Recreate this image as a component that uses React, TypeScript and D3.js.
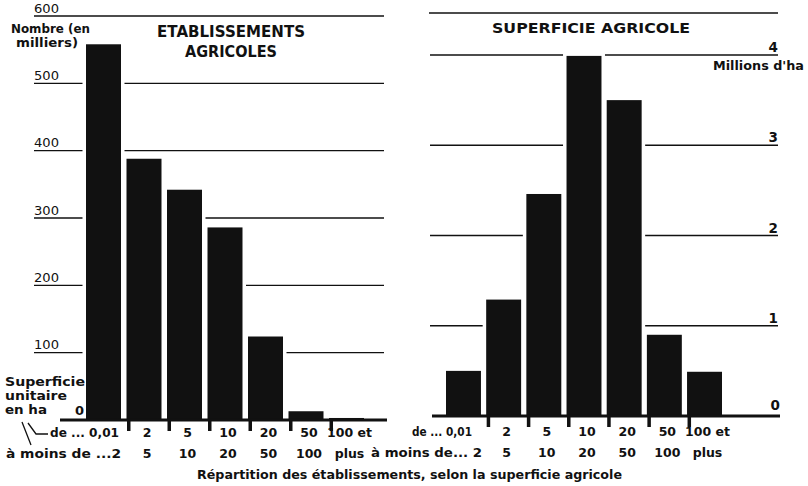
import React from "react";
import * as d3 from "d3";

const categories = ["0,01-2", "2-5", "5-10", "10-20", "20-50", "50-100", "100+"];
const establishments = [558, 388, 342, 286, 124, 13, 3]; // milliers
const area = [0.5, 1.29, 2.46, 3.99, 3.5, 0.9, 0.49]; // millions d'ha
const rowTop = ["0,01", "2", "5", "10", "20", "50", "100 et"];
const rowBottom = ["2", "5", "10", "20", "50", "100", "plus"];
const leftTicks = [100, 200, 300, 400, 500, 600];
const rightTicks = [1, 2, 3, 4];

const FONT = "'DejaVu Sans', sans-serif";
const INK = "#111";

export default function App() {
  const yL = d3.scaleLinear().domain([0, 600]).range([420, 16]);
  const yR = d3.scaleLinear().domain([0, 4]).range([416, 55]);
  const xL = d3.scaleBand<string>().domain(categories).range([86, 364]).paddingInner(0.136).paddingOuter(0);
  const xR = d3.scaleBand<string>().domain(categories).range([446, 722]).paddingInner(0.13).paddingOuter(0);
  const halo = 3.5;

  const bars = (x: d3.ScaleBand<string>, y: d3.ScaleLinear<number, number>, vals: number[]) =>
    categories.map((c, i) => {
      const x0 = x(c)!;
      const w = x.bandwidth();
      const top = y(vals[i]);
      const base = y(0);
      return (
        <g key={c}>
          <rect x={x0 - halo} y={top - 3} width={w + 2 * halo} height={base - top + 3} fill="#fff" />
          <rect x={x0} y={top} width={w} height={base - top} fill={INK} />
        </g>
      );
    });

  const ticks = (x: d3.ScaleBand<string>, base: number) =>
    categories.slice(1).map((c) => (
      <rect key={c} x={x(c)! + 0.5} y={base} width={3.5} height={11} fill={INK} />
    ));

  const catLabels = (x: d3.ScaleBand<string>, r1: number, r2: number) =>
    categories.map((c, i) => {
      if (i === 0) return null;
      const cx = x(c)! + x.bandwidth() / 2 + 3;
      return (
        <g key={c}>
          <text x={cx} y={r1} textAnchor="middle">{rowTop[i]}</text>
          <text x={cx} y={r2} textAnchor="middle">{rowBottom[i]}</text>
        </g>
      );
    });

  const r1 = 437;
  const r2 = 458;

  return (
    <svg
      width={808}
      height={486}
      viewBox="0 0 808 486"
      style={{ position: "absolute", left: 0, top: 0, background: "#fff" }}
      fontFamily={FONT}
      fill={INK}
    >
      <rect width={808} height={486} fill="#fff" />

      {/* LEFT CHART */}
      {leftTicks.map((t) => (
        <g key={t}>
          <line x1={34} x2={384} y1={yL(t)} y2={yL(t)} stroke={INK} strokeWidth={1.3} />
          <text x={34} y={yL(t) - 3.5} fontSize={13} textLength={25} lengthAdjust="spacingAndGlyphs">{t}</text>
        </g>
      ))}
      {bars(xL, yL, establishments)}
      <line x1={60} x2={387} y1={yL(0)} y2={yL(0)} stroke={INK} strokeWidth={3} />
      {ticks(xL, yL(0))}
      <text x={75} y={415} fontSize={13} fontWeight="bold">0</text>

      <text x={11} y={33} fontSize={12.5} fontWeight="bold" textLength={79} lengthAdjust="spacingAndGlyphs">Nombre (en</text>
      <text x={16} y={47} fontSize={12.5} fontWeight="bold" textLength={62} lengthAdjust="spacingAndGlyphs">milliers)</text>

      <text x={231} y={37} fontSize={15} fontWeight="bold" textAnchor="middle" textLength={148} lengthAdjust="spacingAndGlyphs">ETABLISSEMENTS</text>
      <text x={231} y={57} fontSize={15} fontWeight="bold" textAnchor="middle" textLength={92} lengthAdjust="spacingAndGlyphs">AGRICOLES</text>

      <text x={5} y={386} fontSize={12} fontWeight="bold" textLength={80} lengthAdjust="spacingAndGlyphs">Superficie</text>
      <text x={5} y={400} fontSize={12} fontWeight="bold" textLength={62} lengthAdjust="spacingAndGlyphs">unitaire</text>
      <text x={5} y={414} fontSize={12} fontWeight="bold" textLength={42} lengthAdjust="spacingAndGlyphs">en ha</text>

      <path d="M22,422 L31,445 M28,423 L36,434 L48,434" stroke={INK} strokeWidth={1.3} fill="none" />

      <g fontSize={12.5} fontWeight="bold">
        <text x={50} y={r1} textLength={69} lengthAdjust="spacingAndGlyphs">de ... 0,01</text>
        <text x={6} y={r2} textLength={115} lengthAdjust="spacingAndGlyphs">à moins de ...2</text>
        {catLabels(xL, r1, r2)}
      </g>

      {/* RIGHT CHART */}
      <line x1={429} x2={778} y1={13} y2={13} stroke={INK} strokeWidth={1.3} />
      {rightTicks.map((t) => (
        <g key={t}>
          <line x1={430} x2={778} y1={yR(t)} y2={yR(t)} stroke={INK} strokeWidth={1.3} />
          <text x={778} y={yR(t) - 3} fontSize={13.5} fontWeight="bold" textAnchor="end">{t}</text>
        </g>
      ))}
      {bars(xR, yR, area)}
      <line x1={432} x2={780} y1={yR(0)} y2={yR(0)} stroke={INK} strokeWidth={3} />
      {ticks(xR, yR(0))}
      <text x={780} y={yR(0) - 6} fontSize={13.5} fontWeight="bold" textAnchor="end">0</text>

      <text x={591} y={33} fontSize={14.5} fontWeight="bold" textAnchor="middle" textLength={198} lengthAdjust="spacingAndGlyphs">SUPERFICIE AGRICOLE</text>
      <text x={804} y={70} fontSize={12} fontWeight="bold" textAnchor="end" textLength={91} lengthAdjust="spacingAndGlyphs">Millions d'ha</text>

      <g fontSize={12.5} fontWeight="bold">
        <text x={412} y={r1 - 1} textLength={60} lengthAdjust="spacingAndGlyphs">de ... 0,01</text>
        <text x={371} y={r2 - 1} textLength={111} lengthAdjust="spacingAndGlyphs">à moins de... 2</text>
        {catLabels(xR, r1 - 1, r2 - 1)}
      </g>

      <text x={197} y={479} fontSize={12.5} fontWeight="bold" textLength={425} lengthAdjust="spacingAndGlyphs">
        Répartition des établissements, selon la superficie agricole
      </text>
    </svg>
  );
}
